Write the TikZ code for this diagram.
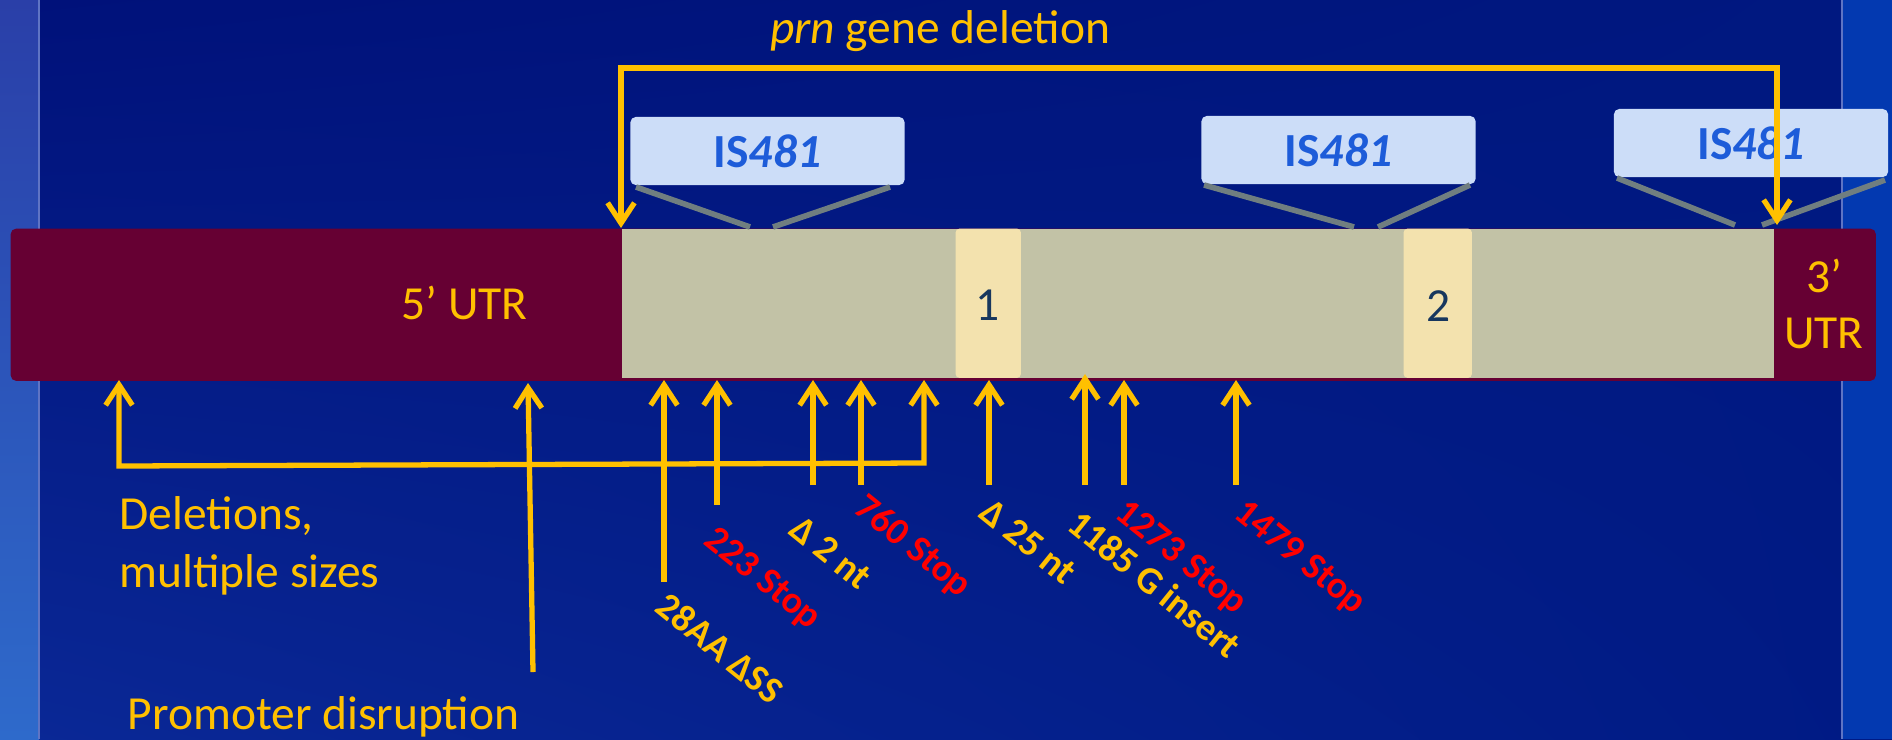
\documentclass[tikz,border=0pt]{standalone}
\usepackage{fontspec}
\setmainfont{Carlito}
\usetikzlibrary{arrows.meta,shadings}
\definecolor{bgUL}{HTML}{00117A}
\definecolor{bgUR}{HTML}{001880}
\definecolor{bgLL}{HTML}{0A2896}
\definecolor{bgLR}{HTML}{001A84}
\definecolor{lstripA}{HTML}{2A3FA8}
\definecolor{lstripB}{HTML}{2E6ACB}
\definecolor{rstrip}{HTML}{0339B0}
\definecolor{edgeline}{HTML}{5F74C4}
\definecolor{yel}{HTML}{FFC000}
\definecolor{redc}{HTML}{FF0000}
\definecolor{maroon}{HTML}{660033}
\definecolor{genec}{HTML}{C2C2A6}
\definecolor{domc}{HTML}{F3E2AE}
\definecolor{isfill}{HTML}{CCDDF8}
\definecolor{istext}{HTML}{1D5CD9}
\definecolor{greyl}{HTML}{707E80}
\definecolor{navy}{HTML}{17375E}
\newcommand{\bigtxt}{\fontsize{13.5pt}{16pt}\selectfont}
\newcommand{\lbltxt}{\fontsize{10.8pt}{13pt}\selectfont\bfseries}
\tikzset{
  yarrow/.style={draw=yel, line width=1.5pt, -{Straight Barb[length=5.8pt,width=7.6pt]}},
  ybracket/.style={draw=yel, line width=1.5pt, {Straight Barb[length=5.8pt,width=7.6pt]}-{Straight Barb[length=5.8pt,width=7.6pt]}},
  gline/.style={draw=greyl, line width=1.6pt},
  isbox/.style={fill=isfill, rounded corners=1.5pt, minimum width=2.74cm, minimum height=0.68cm, inner sep=0pt, text=istext, font=\bigtxt\bfseries},
  seg/.style={anchor=north west, inner sep=0pt, minimum height=1.49cm},
  lbl/.style={anchor=base west, rotate=-39, inner sep=0pt, font=\lbltxt},
  big/.style={font=\bigtxt, inner sep=0pt}
}
\begin{document}
\begin{tikzpicture}[x=0.01cm,y=-0.01cm]
% background
\shade[upper left=bgUL, upper right=bgUR, lower left=bgLL, lower right=bgLR] (0,0) rectangle (1892,739);
\useasboundingbox (0,0) rectangle (1892,739);
\shade[top color=lstripA, bottom color=lstripB] (0,0) rectangle (39,739);
\fill[rstrip] (1842,0) rectangle (1892,739);
\draw[edgeline, line width=0.6pt] (39,0) -- (39,739);
\draw[edgeline, line width=0.6pt] (1842,0) -- (1842,739);

% gene bar
\node[seg, fill=maroon, rounded corners=1.5pt, minimum width=18.64cm, minimum height=1.52cm] (bar) at (10,228) {};
\node[seg, fill=genec, minimum width=11.52cm] (gene) at (621,228) {};
\node[seg, fill=domc, rounded corners=1pt, minimum width=0.65cm] (dom1) at (955,228) {};
\node[seg, fill=domc, rounded corners=1pt, minimum width=0.68cm] (dom2) at (1403,228) {};
\node[big, text=yel, anchor=base] (utr5) at (464.5,319) {5’ UTR};
\node[big, text=navy, anchor=base] (d1) at (988,320) {1};
\node[big, text=navy, anchor=base] (d2) at (1439,321) {2};
\node[big, text=yel, anchor=base] (utr3a) at (1824,292) {3’};
\node[big, text=yel, anchor=base] (utr3b) at (1824,348) {UTR};

% IS481 boxes
\node[isbox] (is1) at (767.5,151) {IS\textit{481}};
\node[isbox] (is2) at (1338.5,150) {IS\textit{481}};
\node[isbox] (is3) at (1751,143) {IS\textit{481}};
\coordinate (is1l) at (636,187); \coordinate (is1lb) at (750,227);
\coordinate (is1r) at (890,187); \coordinate (is1rb) at (773,227);
\coordinate (is2l) at (1204,185); \coordinate (is2lb) at (1354,227);
\coordinate (is2r) at (1470,185); \coordinate (is2rb) at (1378,227);
\coordinate (is3l) at (1617,178); \coordinate (is3lb) at (1735,225);
\coordinate (is3r) at (1885,180); \coordinate (is3rb) at (1762,225);
\draw[gline] (is1l) -- (is1lb);
\draw[gline] (is1r) -- (is1rb);
\draw[gline] (is2l) -- (is2lb);
\draw[gline] (is2r) -- (is2rb);
\draw[gline] (is3l) -- (is3lb);
\draw[gline] (is3r) -- (is3rb);

% prn gene deletion bracket
\node[big, text=yel, anchor=base] (title) at (940,43) {\textit{prn} gene deletion};
\coordinate (bL) at (621,68);
\coordinate (bR) at (1777,68);
\coordinate (rtip) at (1777,225);
\draw[ybracket] (gene.north west) -- (bL) -- (bR) -- (rtip);

% deletions bracket
\coordinate (dA) at (119,380); \coordinate (dAb) at (119,466);
\coordinate (dB) at (924,380); \coordinate (dBb) at (924,463);
\draw[ybracket] (dA) -- (dAb) -- (dBb) -- (dB);
\node[big, text=yel, anchor=base west] (del1) at (119,529) {Deletions,};
\node[big, text=yel, anchor=base west] (del2) at (119,587) {multiple sizes};

% promoter
\coordinate (pT) at (528,383); \coordinate (pB) at (533,672);
\draw[yarrow] (pB) -- (pT);
\node[big, text=yel, anchor=base west] (prom) at (127,729) {Promoter disruption};

% mutation arrows
\foreach \n/\x/\yb/\yt in {a/664/582/380, b/717/505/380, c/813/485/380, d/861/485/380, e/989/485/380, f/1085/485/374, g/1124/485/380, h/1236/485/380}{
  \coordinate (\n B) at (\x,\yb);
  \coordinate (\n T) at (\x,\yt);
  \draw[yarrow] (\n B) -- (\n T);
}

% rotated labels
\node[lbl, text=yel] (la) at (653,610) {28AA ΔSS};
\node[lbl, text=redc] (lb) at (702,543) {223 Stop};
\node[lbl, text=yel] (lc) at (787,533) {Δ 2 nt};
\node[lbl, text=redc] (ld) at (852,511) {760 Stop};
\node[lbl, text=yel] (le) at (977,516) {Δ 25 nt};
\node[lbl, text=yel] (lf) at (1065,528) {1185 G insert};
\node[lbl, text=redc] (lg) at (1113,516) {1273 Stop};
\node[lbl, text=redc] (lh) at (1232,516) {1479 Stop};
\end{tikzpicture}
\end{document}
